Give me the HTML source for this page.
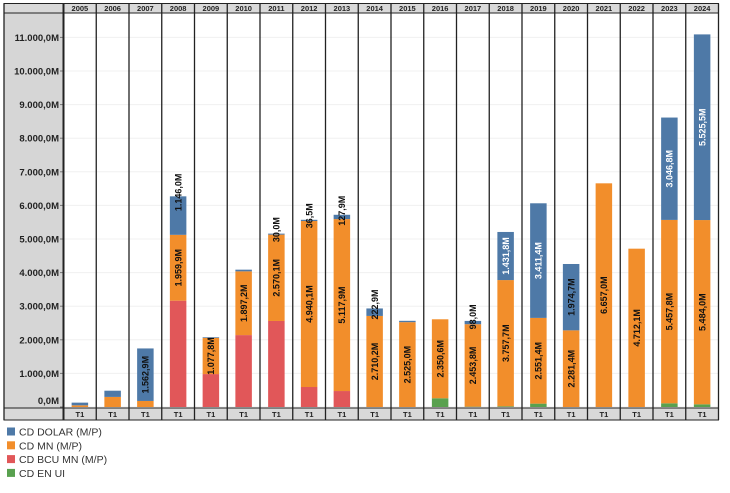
<!DOCTYPE html>
<html><head><meta charset="utf-8"><style>
body{margin:0;background:#fff;width:730px;height:493px;overflow:hidden;font-family:"Liberation Sans",sans-serif}
svg{position:absolute;left:0;top:0}
</style></head><body>
<svg id="c" width="730" height="493"></svg>
<script>
const years=["2005","2006","2007","2008","2009","2010","2011","2012","2013","2014","2015","2016","2017","2018","2019","2020","2021","2022","2023","2024"];
const enUI=[0,0,0,0,0,0,0,0,0,0,0,260,10,20,100,0,0,0,110,80];
const bcuMN=[0,0,0,3164,980,2140,2560,595,475,0,0,0,0,0,0,0,0,0,0,0];
const mn=[50,300,180,1959.9,1077.8,1897.2,2570.1,4940.1,5117.9,2710.2,2525.0,2350.6,2453.8,3757.7,2551.4,2281.4,6657.0,4712.1,5457.8,5484.0];
const dolar=[80,185,1562.9,1146.0,20,50,30.0,36.5,127.9,222.9,40,0,98.0,1431.8,3411.4,1974.7,0,0,3046.8,5525.5];
const mnLabels=["","","","1.959,9M","1.077,8M","1.897,2M","2.570,1M","4.940,1M","5.117,9M","2.710,2M","2.525,0M","2.350,6M","2.453,8M","3.757,7M","2.551,4M","2.281,4M","6.657,0M","4.712,1M","5.457,8M","5.484,0M"];
const dolarLabels=["","","1.562,9M","1.146,0M","","","30,0M","36,5M","127,9M","222,9M","","","98,0M","1.431,8M","3.411,4M","1.974,7M","","","3.046,8M","5.525,5M"];
const yTicks=[0,1000,2000,3000,4000,5000,6000,7000,8000,9000,10000,11000];
const yTickLabels=["0,0M","1.000,0M","2.000,0M","3.000,0M","4.000,0M","5.000,0M","6.000,0M","7.000,0M","8.000,0M","9.000,0M","10.000,0M","11.000,0M"];
const whiteLabelYears=["2018","2019","2023","2024"];

const NS="http://www.w3.org/2000/svg";
const svg=document.getElementById('c');
const x0=63.5,colW=32.75,zeroY=407,pxPer=33.6/1000;
const yS=v=>zeroY-v*pxPer;
const xC=i=>x0+colW*i+colW/2;
function mk(tag,attrs,parent){const e=document.createElementNS(NS,tag);for(const k in attrs)e.setAttribute(k,attrs[k]);(parent||svg).appendChild(e);return e;}

let lp=mk('rect',{x:4,y:13,width:59.5,height:395,fill:'#d6d6d6'});


let hr=mk('rect',{x:4,y:3.5,width:714.5,height:9.5,fill:'#d9d9d9',stroke:'#222','stroke-width':1});


let fr=mk('rect',{x:4,y:408,width:714.5,height:12,fill:'#d9d9d9',stroke:'#222','stroke-width':1});


yTicks.forEach((t,i)=>{
  const y=yS(t);
  let g=mk('line',{x1:x0,x2:718.5,y1:y,y2:y,stroke:'#f0f0f0','stroke-width':1});
  
  
  mk('line',{x1:60,x2:63,y1:y,y2:y,stroke:'#777','stroke-width':1});
  let tx=mk('text',{x:59,y:(t===0?y-3:y+3.5),'text-anchor':'end','font-size':'9.5','font-weight':'bold',fill:'#222'});
  tx.textContent=yTickLabels[i];
  
  
});
const cols=['#59a14f','#e15759','#f28e2b','#4e79a7'];
years.forEach((yr,i)=>{
  const segs=[enUI[i],bcuMN[i],mn[i],dolar[i]];
  const names=['bar-en-ui-','bar-bcu-mn-','bar-mn-','bar-dolar-'];
  let base=0;
  const cx=xC(i),bw=16.5;
  const segPos=[];
  segs.forEach((v,k)=>{
    const yTop=yS(base+v),yBot=yS(base);
    segPos.push([yTop,yBot]);
    if(v>0){
      let r=mk('rect',{x:cx-bw/2,y:yTop,width:bw,height:yBot-yTop,fill:cols[k]});
      
      
    }
    base+=v;
  });
  const lbl=(txt,k,color,allowAbove)=>{
    if(!txt)return;
    const [t,b]=segPos[k];const h=b-t;const tw=txt.length*5.2;
    let cy=(!allowAbove||h>tw+4)?(t+b)/2:t-4;
    let e=mk('text',{x:0,y:0,transform:`translate(${cx+3.3},${cy}) rotate(-90)`,'text-anchor':'middle','font-size':'9','font-weight':'bold',fill:color});
    e.textContent=txt;
    
    
  };
  lbl(mnLabels[i],2,'#111',false);
  const small=(segPos[3][1]-segPos[3][0])<dolarLabels[i].length*5.2+4;
  lbl(dolarLabels[i],3,(whiteLabelYears.includes(yr)&&!small)?'#fff':'#111',true);
  let h=mk('text',{x:cx,y:11,'text-anchor':'middle','font-size':'7.5','font-weight':'bold',fill:'#222'});
  h.textContent=yr;
  
  
  let f=mk('text',{x:cx,y:417,'text-anchor':'middle','font-size':'7.5','font-weight':'bold',fill:'#222'});
  f.textContent='T1';
  
  
});
for(let i=0;i<=20;i++){
  const x=x0+colW*i;
  let l=mk('line',{x1:x,x2:x,y1:3.5,y2:420,stroke:'#222','stroke-width':(i===0?2:1.3)});
  
  
}
let lb=mk('line',{x1:4,x2:4,y1:3.5,y2:420,stroke:'#222','stroke-width':1.3});


const legNames=['CD DOLAR (M/P)','CD MN (M/P)','CD BCU MN (M/P)','CD EN UI'];
const legCols=['#4e79a7','#f28e2b','#e15759','#59a14f'];
legNames.forEach((n,k)=>{
  const y=432+13.8*k;
  let r=mk('rect',{x:7,y:y-4.5,width:8,height:8,fill:legCols[k]});
  
  
  let t=mk('text',{x:19,y:y+3.5,'font-size':'10.5',fill:'#333'});
  t.textContent=n;
  
  
});
</script>
</body></html>
